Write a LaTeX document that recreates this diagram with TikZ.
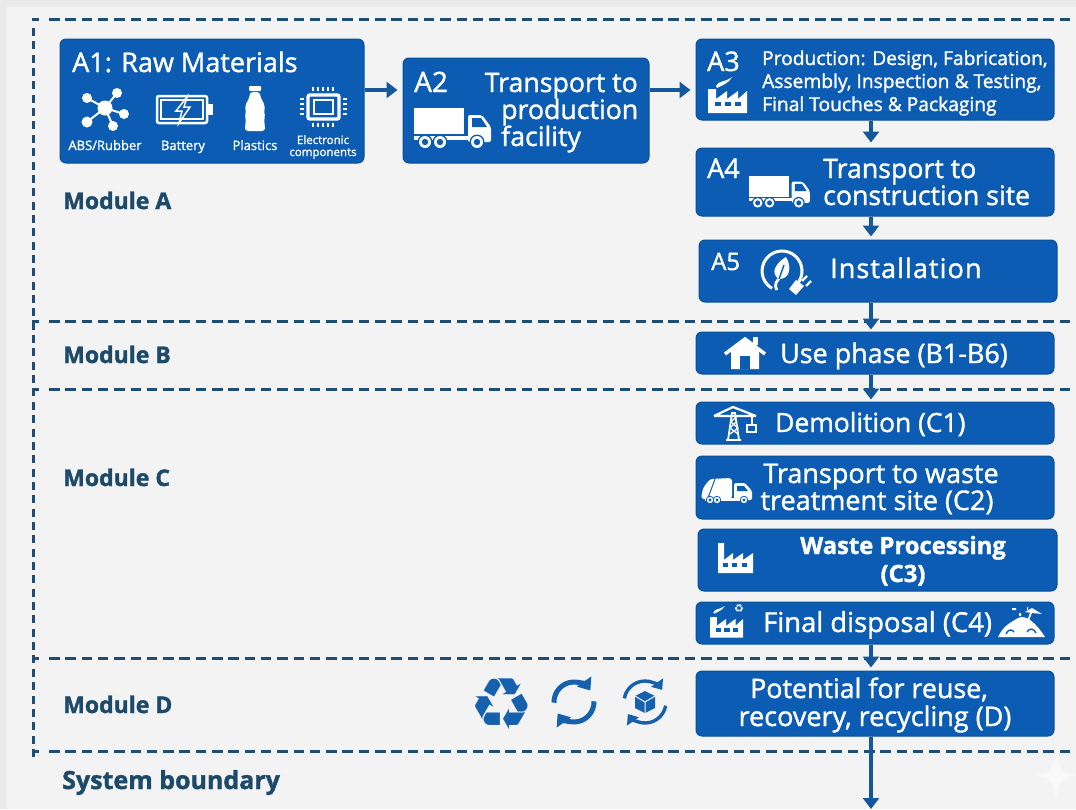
\documentclass[tikz,border=0pt]{standalone}
\usepackage{fontspec}
\setmainfont{Open Sans}[FakeBold=1.4]
\newfontfamily\symfont{DejaVu Sans}
\usetikzlibrary{arrows.meta}
\definecolor{boxblue}{HTML}{0B5CB2}
\definecolor{boxedge}{HTML}{0A4F96}
\definecolor{arrowblue}{HTML}{14589A}
\definecolor{dashblue}{HTML}{1F4E74}
\definecolor{modtext}{HTML}{1D4A68}
\definecolor{iconblue}{HTML}{1661AE}
\definecolor{pagebg}{HTML}{F3F3F3}
\definecolor{pageedge}{HTML}{EAEAEA}
\newcommand{\fsz}[1]{\fontsize{#1}{#1}\selectfont}
\tikzset{
  x=1pt,y=-1pt,
  box/.style={draw=boxedge,line width=1pt,fill=boxblue,rounded corners=6pt,inner sep=0pt},
  lbl/.style={inner sep=0pt,text=white,anchor=base west,yshift=-1pt},
  clbl/.style={inner sep=0pt,text=white,anchor=base,yshift=-1pt},
  rlbl/.style={inner sep=0pt,text=white,anchor=base east,yshift=-1pt},
  modlbl/.style={inner sep=0pt,text=modtext,anchor=base west,font=\fsz{23}\bfseries,yshift=-1pt},
  flow/.style={draw=arrowblue,line width=3.2pt,-{Triangle[length=11pt,width=16pt]},shorten >=5pt},
  dashseg/.style={fill=dashblue},
  pics/truck/.style={code={
    \fill[white] (0,0) rectangle (50,26);
    \fill[white] (0,28) rectangle (56,32);
    \fill[white,rounded corners=2pt] (54,7)--(68,7)--(77,19)--(77,34)--(54,34)--cycle;
    \fill[boxblue] (58,10)--(67,10)--(73,19)--(58,19)--cycle;
    \foreach \wx in {11,26,63}{
      \fill[boxblue] (\wx,34) circle[radius=7.5];
      \fill[white] (\wx,34) circle[radius=6];
      \fill[boxblue] (\wx,34) circle[radius=3.2];}
  }},
  pics/bintruck/.style={code={
    \fill[white,rounded corners=3pt] (0,21)--(2,10)--(9,1)--(31,0)--(31,21)--cycle;
    \draw[boxblue,line width=1pt] (14,1)--(7,20);
    \fill[white,rounded corners=1.5pt] (33,5)--(44,5)--(51,13)--(51,22)--(33,22)--cycle;
    \fill[boxblue] (36,8)--(43,8)--(47,13)--(36,13)--cycle;
    \fill[white] (4,20) rectangle (40,23);
    \foreach \wx in {9,16,43}{
      \fill[boxblue] (\wx,22) circle[radius=4.2];
      \fill[white] (\wx,22) circle[radius=3.2];
      \fill[boxblue] (\wx,22) circle[radius=1.6];}
  }},
  pics/factory/.style={code={
    \fill[white] (0,36)--(0,12)--(8,12)--(8,22)--(19,14)--(19,22)--(30,14)--(30,22)--(39,14)--(39,36)--cycle;
    \foreach \wx in {7,17,27}{\fill[boxblue] (\wx,25) rectangle ++(6,4);}
  }},
  pics/tallfactory/.style={code={
    \fill[white] (0,30)--(0,0)--(6,0)--(6,17)--(15,10)--(15,17)--(25,10)--(25,17)--(35,10)--(35,30)--cycle;
    \foreach \wx in {5,14,24}{\fill[boxblue] (\wx,20) rectangle ++(5,4);}
  }},
  pics/smoke/.style={code={
    \fill[white] (2,9) .. controls (5,3) and (10,6) .. (18,0) .. controls (15,6) and (9,8) .. (3,11) -- cycle;
  }},
  pics/cycle/.style={code={
    \draw[line width=5pt,-{Triangle[length=11pt,width=17pt]},draw=iconblue]
      (178:20) arc[start angle=178,end angle=325,radius=20];
    \draw[line width=5pt,-{Triangle[length=11pt,width=17pt]},draw=iconblue]
      (358:20) arc[start angle=358,end angle=505,radius=20];
  }},
  pics/cyclethin/.style={code={
    \draw[line width=3.4pt,-{Triangle[length=9pt,width=14pt]},draw=iconblue]
      (190:21) arc[start angle=190,end angle=325,radius=21];
    \draw[line width=3.4pt,-{Triangle[length=9pt,width=14pt]},draw=iconblue]
      (10:21) arc[start angle=10,end angle=145,radius=21];
  }},
  pics/molecule/.style={code={
    \foreach \mx/\my/\mr in {-18/-10/5,12/-15/5,19/6/5,8/18/5,-18/14/5.5}{
      \draw[white,line width=2pt] (0,0)--(\mx,\my);
      \fill[white] (\mx,\my) circle[radius=\mr];}
    \fill[white] (0,0) circle[radius=7.5];
  }},
  pics/battery/.style={code={
    \draw[white,line width=2.5pt,rounded corners=2pt] (0,0) rectangle (50,27);
    \draw[white,line width=1.3pt] (4,4) rectangle (46,23);
    \fill[white] (51,8) rectangle (56,19);
    \draw[white,line width=1.5pt,fill=boxblue] (30,1)--(19,15)--(25,15)--(22,27)--(33,11)--(27,11)--cycle;
  }},
  pics/bottle/.style={code={
    \fill[white,rounded corners=1pt] (4,0) rectangle (16,5);
    \fill[white,rounded corners=3pt] (5,6)--(15,6)--(15,10)--(20,20)--(19,27)--(20,30)--(19,36)--(20,40)--(20,45)--(0,45)--(0,40)--(1,36)--(0,30)--(1,27)--(0,20)--(5,10)--cycle;
  }},
  pics/chip/.style={code={
    \draw[white,line width=3.4pt,rounded corners=2pt] (8,8) rectangle (39,32);
    \draw[white,line width=1.8pt] (14,13) rectangle (33,27);
    \foreach \px in {13,18,23,28,33}{
      \draw[white,line width=1.8pt] (\px,0)--(\px,4);
      \draw[white,line width=1.8pt] (\px,36)--(\px,40);}
    \foreach \py in {12,17,22,27}{
      \draw[white,line width=1.8pt] (0,\py)--(4,\py);
      \draw[white,line width=1.8pt] (43,\py)--(47,\py);}
  }},
  pics/leafplug/.style={code={
    \draw[white,line width=3pt] (55:20) arc[start angle=55,end angle=-240,radius=20];
    \draw[white,line width=2.8pt] (-5,19) .. controls (-9,12) and (-4,10) .. (-2,6);
    \fill[white] (-3,8) .. controls (-13,2) and (-5,-9) .. (4,-14) .. controls (10,-4) and (8,8) .. (-3,8) -- cycle;
    \draw[boxblue,line width=1.4pt] (-3,8)--(2,-6);
    \fill[white] (7,18)--(14,9)--(22,15)--(14,24)--cycle;
    \draw[white,line width=2.4pt] (20,10)--(25,5) (24,15)--(29,10);
  }},
  pics/house/.style={code={
    \fill[white] (7,14)--(21,3)--(35,14)--(35,32)--(7,32)--cycle;
    \fill[boxblue] (16,19) rectangle (26,32);
    \fill[white] (29,0) rectangle (34,8);
    \draw[white,line width=3.5pt,line join=miter] (1,17)--(21,2)--(41,17);
  }},
  pics/crane/.style={code={
    \draw[white,line width=1.8pt] (14,33)--(18,6)--(21,6)--(25,33) (12,33)--(27,33);
    \draw[white,line width=1.3pt] (16,27)--(24,21)--(17,15)--(22,10) (24,27)--(16,21)--(22,15);
    \draw[white,line width=2.2pt] (0,9)--(19,0)--(42,9) (0,9)--(42,9);
    \draw[white,line width=1.3pt] (38,9)--(38,18);
    \draw[white,line width=1.5pt] (33,18) rectangle (42,25);
  }},
  pics/landfill/.style={code={
    \fill[white] (0,30) .. controls (6,18) and (12,16) .. (20,11) .. controls (28,7) and (38,16) .. (47,30) -- cycle;
    \draw[white,line width=1.8pt] (30,14)--(34,3);
    \fill[white] (27,5)--(34,1)--(44,7)--(34,6)--cycle;
    \fill[white] (14,1) rectangle (18,3) (21,6) rectangle (23,9) (29,0) rectangle (30,3);
    \draw[boxblue,line width=1.4pt] (8,27) .. controls (10,22) and (14,22) .. (16,25)
      (29,25) .. controls (32,20) and (36,22) .. (38,26);
  }},
}
\begin{document}
\begin{tikzpicture}
\useasboundingbox (0,0) rectangle (1076,809);
\fill[pageedge] (0,0) rectangle (1076,809);
\fill[pagebg] (7,7) rectangle (1076,809);
% watermark sparkle
\fill[white,opacity=.55] (1056,752) .. controls (1058,768) and (1062,773) .. (1078,775) .. controls (1062,777) and (1058,782) .. (1056,798) .. controls (1054,782) and (1050,777) .. (1034,775) .. controls (1050,773) and (1054,768) .. (1056,752) -- cycle;

% boundary lines, dash by dash
\foreach \ly in {19,321,389,658,751}{
  \fill[dashseg] (32,\ly-1.5) rectangle (39,\ly+1.5);
  \foreach \i in {0,...,63}{
    \fill[dashseg] ({49+16.3*\i},\ly-1.5) rectangle ({59.5+16.3*\i},\ly+1.5);}
}
\foreach \i in {0,...,54}{
  \fill[dashseg] (32,{28+13.35*\i}) rectangle (35,{36+13.35*\i});}

% boxes
\node[box,minimum width=304pt,minimum height=124pt] (a1) at (212,101) {};
\node[box,minimum width=246pt,minimum height=105pt] (a2) at (526,110.5) {};
\node[box,minimum width=358pt,minimum height=81pt] (a3) at (875,79.5) {};
\node[box,minimum width=358pt,minimum height=68pt] (a4) at (875,182) {};
\node[box,minimum width=358pt,minimum height=62pt] (a5) at (878,271) {};
\node[box,minimum width=358pt,minimum height=42pt] (b) at (875,353) {};
\node[box,minimum width=358pt,minimum height=42pt] (c1) at (875,423) {};
\node[box,minimum width=358pt,minimum height=63pt] (c2) at (875,487.5) {};
\node[box,minimum width=359pt,minimum height=62pt] (c3) at (877.5,560) {};
\node[box,minimum width=358pt,minimum height=42pt] (c4) at (875,623) {};
\node[box,minimum width=358pt,minimum height=65pt] (d) at (875,703.5) {};

% connectors
\coordinate (rowy) at (0,90);
\coordinate (spine) at (871,0);
\coordinate (out) at (871,809);
\draw[flow] (a1.east |- rowy) -- (a2.west |- rowy);
\draw[flow] (a2.east |- rowy) -- (a3.west |- rowy);
\draw[flow] (a3.south -| spine) -- (a4.north -| spine);
\draw[flow,shorten >=3pt] (a4.south -| spine) -- (a5.north -| spine);
\draw[flow,shorten >=2pt] (a5.south -| spine) -- (b.north -| spine);
\draw[flow,shorten >=2pt] (b.south -| spine) -- (c1.north -| spine);
\draw[flow,shorten >=3pt] (c4.south -| spine) -- (d.north -| spine);
\draw[flow,shorten >=0pt] (d.south -| spine) -- (out);

% A1
\node[lbl,font=\fsz{27}] (a1t) at (72,71) {A1: Raw Materials};
\pic at (105,108) {molecule};
\pic at (157,96) {battery};
\pic at (245,86) {bottle};
\pic at (300,87) {chip};
\node[clbl,font=\fsz{13}] (a1a) at (105,149) {ABS/Rubber};
\node[clbl,font=\fsz{13}] (a1b) at (183,149) {Battery};
\node[clbl,font=\fsz{13}] (a1c) at (255,149) {Plastics};
\node[clbl,font=\fsz{11.5}] (a1d) at (323,143) {Electronic};
\node[clbl,font=\fsz{11.5}] (a1e) at (323,155) {components};

% A2
\node[lbl,font=\fsz{28}] (a2t) at (414,91) {A2};
\pic at (414,108) {truck};
\node[rlbl,font=\fsz{26.7}] (a2a) at (638,91) {Transport to};
\node[lbl,font=\fsz{26.7}] (a2b) at (501,118) {production};
\node[lbl,font=\fsz{26.7}] (a2c) at (501,145) {facility};

% A3
\node[lbl,font=\fsz{27}] (a3t) at (707,70) {A3};
\pic at (708,77) {factory};
\pic at (714,77) {smoke};
\node[lbl,font=\fsz{19.2}] (a3a) at (762,64) {Production: Design, Fabrication,};
\node[lbl,font=\fsz{19.2}] (a3b) at (762,87) {Assembly, Inspection \& Testing,};
\node[lbl,font=\fsz{19.2}] (a3c) at (762,110) {Final Touches \& Packaging};

% A4
\node[lbl,font=\fsz{27}] (a4t) at (707,177) {A4};
\pic[scale=.79] at (749,176) {truck};
\node[lbl,font=\fsz{26.7}] (a4a) at (823,177) {Transport to};
\node[lbl,font=\fsz{26.7}] (a4b) at (823,204) {construction site};

% A5
\node[lbl,font=\fsz{24}] (a5t) at (711,269) {A5};
\pic at (782,271) {leafplug};
\node[lbl,font=\fsz{27}\addfontfeature{LetterSpace=4}] (a5a) at (830,277) {Installation};

% B
\pic at (724,337) {house};
\node[lbl,font=\fsz{26.9}] (bt) at (780,362) {Use phase (B1-B6)};

% C
\pic at (714,407) {crane};
\node[lbl,font=\fsz{26.4}] (c1t) at (775,431) {Demolition (C1)};
\pic at (701,478) {bintruck};
\node[clbl,font=\fsz{27}] (c2a) at (881,482) {Transport to waste};
\node[clbl,font=\fsz{27}] (c2b) at (877,509) {treatment site (C2)};
\pic at (718,543) {tallfactory};
\node[clbl,font=\fsz{23.8}\bfseries] (c3a) at (903,553) {Waste Processing};
\node[clbl,font=\fsz{23.8}\bfseries] (c3b) at (903,581) {(C3)};
\pic[scale=.85] at (710,607) {factory};
\pic[scale=.7] at (712,606) {smoke};
\node[inner sep=0pt,text=white,font=\symfont\fsz{11}] (c4r) at (739,609) {♻};
\node[lbl,font=\fsz{27.4}] (c4t) at (763,631) {Final disposal (C4)};
\pic at (998,607) {landfill};

% D
\node[clbl,font=\fsz{26.8}] (da) at (869,697) {Potential for reuse,};
\node[clbl,font=\fsz{27}] (db) at (875,725) {recovery, recycling (D)};
\node[inner sep=0pt,text=iconblue,font=\symfont\fsz{72}] (rec) at (502,704) {♻};
\pic at (574,702) {cycle};
\pic at (645,702) {cyclethin};
\fill[iconblue] (645,691)--(655,696)--(655,708)--(645,713)--(635,708)--(635,696)--cycle;
\draw[pagebg,line width=1pt] (635,696)--(645,702)--(655,696) (645,702)--(645,713);

% module labels
\node[modlbl] (ma) at (63,208) {Module A};
\node[modlbl] (mb) at (63,362) {Module B};
\node[modlbl] (mc) at (63,485) {Module C};
\node[modlbl] (md) at (63,712) {Module D};
\node[modlbl,font=\fsz{25}\bfseries] (sb) at (62,788) {System boundary};
\end{tikzpicture}
\end{document}
